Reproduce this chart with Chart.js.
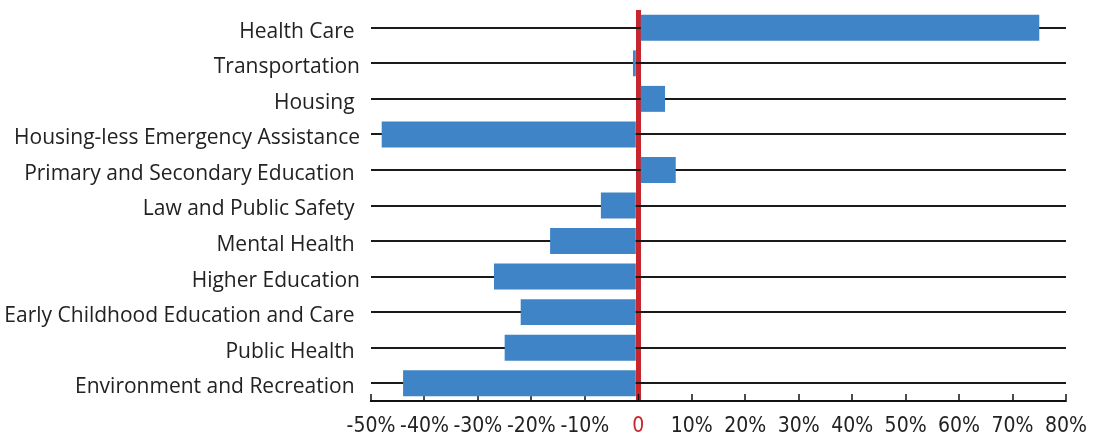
<!DOCTYPE html>
<html>
<head>
<meta charset="utf-8">
<script src="https://cdn.jsdelivr.net/npm/chart.js@4"></script>
<style>
  html, body { margin: 0; padding: 0; background: #fff; }
  #wrap { width: 1095px; height: 434px; }
</style>
</head>
<body>
<div id="wrap"><canvas id="budgetChart"></canvas></div>
<script>
// categories top to bottom, trailing spaces as in the original labels
const categories = [
  'Health Care ', 'Transportation', 'Housing ', 'Housing-less Emergency Assistance',
  'Primary and Secondary Education ', 'Law and Public Safety ', 'Mental Health ',
  'Higher Education', 'Early Childhood Education and Care ', 'Public Health ',
  'Environment and Recreation '
];
// percent change
const changes = [75, -1, 5, -48, 7, -7, -16.5, -27, -22, -25, -44];
const xTicks = [-50, -40, -30, -20, -10, 0, 10, 20, 30, 40, 50, 60, 70, 80];

const RED = '#c8262e';

let ctx = document.getElementById('budgetChart').getContext('2d');
let budgetChart = new Chart(ctx, {
  type: 'bar',
  data: {
    labels: categories,
    datasets: [{
      data: changes,
      backgroundColor: '#3e84c6',
      borderWidth: 0,
      categoryPercentage: 1,
      barPercentage: 0.73
    }]
  },
  options: {
    indexAxis: 'y',
    responsive: true,
    maintainAspectRatio: false,
    animation: false,
    layout: { padding: { top: 10, right: 29, bottom: 0, left: 0 } },
    plugins: { legend: { display: false }, tooltip: { enabled: false } },
    scales: {
      x: {
        min: -50, max: 80,
        z: 1,
        afterBuildTicks: (scale) => { scale.ticks = xTicks.map(v => ({ value: v })); },
        afterFit: (scale) => {
          scale.height = 33;
          scale.paddingLeft = 0;
          scale.paddingRight = 0;
        },
        border: { display: true, color: '#111', width: 2 },
        grid: {
          drawOnChartArea: true,
          color: (c) => c.tick && c.tick.value === 0 ? RED : 'rgba(0,0,0,0)',
          lineWidth: (c) => c.tick && c.tick.value === 0 ? 5 : 0,
          tickColor: '#111',
          tickWidth: 1.5,
          tickLength: -7   // ticks point up into the plot
        },
        ticks: {
          autoSkip: false,
          maxRotation: 0,
          padding: 20,
          color: (c) => c.tick && c.tick.value === 0 ? RED : '#222',
          font: { family: "'Liberation Sans Narrow', 'DejaVu Sans Condensed', sans-serif", size: 21 },
          callback: (v) => v === 0 ? '0' : v + '%'
        }
      },
      y: {
        afterFit: (scale) => {
          scale.width = 371;
          scale.paddingTop = 0;
          scale.paddingBottom = 0;
        },
        border: { display: false },
        grid: {
          offset: false,
          drawTicks: false,
          color: '#1a1a1a',
          lineWidth: 2
        },
        ticks: {
          padding: 11,
          labelOffset: 4,
          color: '#222',
          font: { family: "'Open Sans', sans-serif", size: 21, lineHeight: 1 }
        }
      }
    }
  }
});
</script>
</body>
</html>
